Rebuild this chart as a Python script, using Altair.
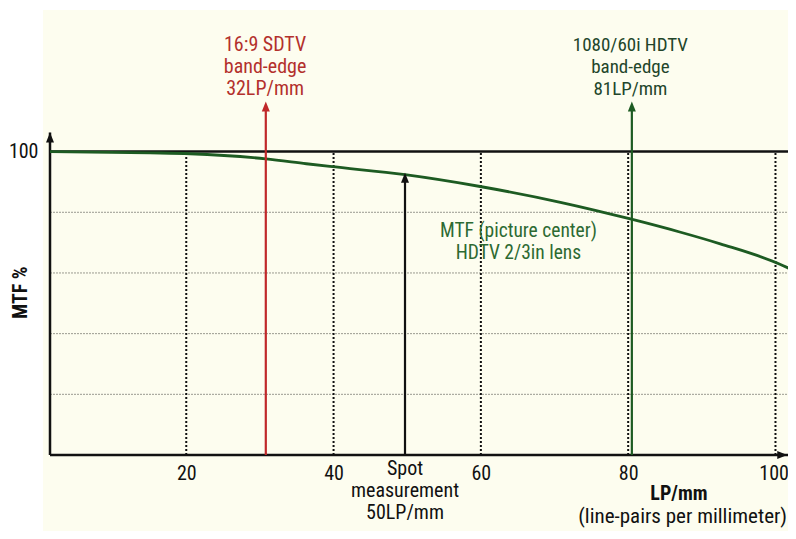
import altair as alt
import pandas as pd

# ---------------- data ----------------
curve_lp = [1.5, 15.1, 20.5, 30.8, 36.3, 39.5, 49.7, 59.9, 70.8, 80.3, 87.0, 92.5, 100.6, 102.8]
curve_mtf = [100, 99.6, 99.3, 97.6, 96.0, 95.1, 92.4, 88.5, 83.3, 77.8, 73.5, 69.6, 62.9, 60.4]

x_ticks = [20, 40, 60, 80, 100]
y_grid = [20, 40, 60, 80]
y_top = 100

marker_lp = [30.8, 49.7, 80.5]
marker_tip = [116.5, 93.0, 116.5]
marker_color = ["#c0282a", "#111111", "#1d5b22"]

label_text = ["16:9 SDTV\nband-edge\n32LP/mm",
              "Spot\nmeasurement\n50LP/mm",
              "1080/60i HDTV\nband-edge\n81LP/mm",
              "MTF (picture center)\nHDTV 2/3in lens"]
label_x = [30.7, 49.7, 80.3, 65.1]
label_y = [135.0, -4.5, 135.0, 73.8]
label_size = [20, 20, 19, 19.5]
label_color = ["#b3302c", "#111111", "#22452a", "#2d6a32"]

X_MIN, X_MAX = 1.5, 101.7
Y_MIN, Y_MAX = 0, 118
AXIS_TOP = 106.3

FONT = "Liberation Sans Narrow, Roboto Condensed, DejaVu Sans Condensed, Arial Narrow, sans-serif"

xs = alt.Scale(domain=[X_MIN, X_MAX], nice=False, zero=False)
ys = alt.Scale(domain=[Y_MIN, Y_MAX], nice=False, zero=False)
XA = alt.Axis(values=x_ticks, domain=False, ticks=False, grid=False, title=None,
              labelFont=FONT, labelFontSize=20, labelColor="#111111",
              labelPadding=8, labelFlush=20, labelFlushOffset=13, zindex=2)
YA = alt.Axis(values=[y_top], domain=False, ticks=False, grid=False, title=None,
              labelFont=FONT, labelFontSize=20, labelColor="#111111",
              labelPadding=12, zindex=2)


def X(f):
    return alt.X(f, type="quantitative", scale=xs, axis=XA)


def Y(f):
    return alt.Y(f, type="quantitative", scale=ys, axis=YA)


one = pd.DataFrame({"a": [0]})

# cream paper background
paper = alt.Chart(one).mark_rect(color="#fdfdef").encode(
    x=alt.value(-7), x2=alt.value(746), y=alt.value(-87), y2=alt.value(440))

# vertical dotted grid (black) from 0 to 100
vgrid_df = pd.DataFrame({"x": x_ticks, "y0": [0] * len(x_ticks), "y1": [y_top] * len(x_ticks)})
vgrid = alt.Chart(vgrid_df).mark_rule(color="#111111", strokeWidth=2, strokeDash=[2, 2]).encode(
    x=X("x"), y=Y("y0"), y2="y1")

# horizontal light dotted grid
hgrid_df = pd.DataFrame({"y": y_grid, "x0": [X_MIN] * len(y_grid), "x1": [X_MAX] * len(y_grid)})
hgrid = alt.Chart(hgrid_df).mark_rule(color="#9a9a90", strokeWidth=1, strokeDash=[2, 1]).encode(
    y=Y("y"), x=X("x0"), x2="x1")

# 100% reference line
top_df = pd.DataFrame({"y": [y_top], "x0": [X_MIN], "x1": [X_MAX]})
top_line = alt.Chart(top_df).mark_rule(color="#111111", strokeWidth=2.5).encode(
    y=Y("y"), x=X("x0"), x2="x1")

# axis lines
yaxis_df = pd.DataFrame({"x": [X_MIN], "y0": [0], "y1": [AXIS_TOP]})
yaxis_line = alt.Chart(yaxis_df).mark_rule(color="#111111", strokeWidth=2.5).encode(
    x=X("x"), y=Y("y0"), y2="y1")
xaxis_df = pd.DataFrame({"y": [0], "x0": [X_MIN], "x1": [X_MAX]})
xaxis_line = alt.Chart(xaxis_df).mark_rule(color="#111111", strokeWidth=2.5).encode(
    y=Y("y"), x=X("x0"), x2="x1")

UP = "M0,0L-0.8,2L0.8,2Z"
RIGHT = "M0,0L-2,-0.8L-2,0.8Z"
yarrow = alt.Chart(pd.DataFrame({"x": [X_MIN], "y": [AXIS_TOP]})).mark_point(
    shape=UP, size=100, filled=True, color="#111111", opacity=1).encode(x=X("x"), y=Y("y"))
xarrow = alt.Chart(pd.DataFrame({"x": [X_MAX - 0.1], "y": [0]})).mark_point(
    shape=RIGHT, size=100, filled=True, color="#111111", opacity=1).encode(x=X("x"), y=Y("y"))

# MTF curve
curve_df = pd.DataFrame({"lp": curve_lp, "mtf": curve_mtf})
curve = alt.Chart(curve_df).mark_line(color="#1d5b22", strokeWidth=2.8, clip=True,
                                      interpolate="monotone").encode(x=X("lp"), y=Y("mtf"))

# marker arrows
mk_df = pd.DataFrame({"lp": marker_lp, "y0": [0] * 3, "tip": marker_tip,
                      "c": marker_color})
mk_df["stem"] = mk_df["tip"] - 2
mk_lines = alt.Chart(mk_df).mark_rule(strokeWidth=2.2).encode(
    x=X("lp"), y=Y("y0"), y2="stem", color=alt.Color("c:N", scale=None))
mk_heads = alt.Chart(mk_df).mark_point(shape=UP, size=100, filled=True, opacity=1).encode(
    x=X("lp"), y=Y("tip"), color=alt.Color("c:N", scale=None))

# annotation labels
lab_df = pd.DataFrame({"t": label_text, "x": label_x, "y": label_y, "c": label_color,
                       "s": label_size})
labels = alt.Chart(lab_df).mark_text(font=FONT, lineBreak="\n", lineHeight=22,
                                     align="center", baseline="middle").encode(
    x=X("x"), y=Y("y"), text="t:N", color=alt.Color("c:N", scale=None),
    size=alt.Size("s:Q", scale=None))

# axis titles
xt_df = pd.DataFrame({"t": ["LP/mm"], "x": [86.9], "y": [-12.9]})
xt1 = alt.Chart(xt_df).mark_text(font=FONT, fontSize=20, fontWeight="bold", color="#111111",
                                 align="center", baseline="middle").encode(
    x=X("x"), y=Y("y"), text="t:N")
xt2_df = pd.DataFrame({"t": ["(line-pairs per millimeter)"], "x": [87.4], "y": [-20.6]})
xt2 = alt.Chart(xt2_df).mark_text(font=FONT, fontSize=21, color="#111111",
                                  align="center", baseline="middle").encode(
    x=X("x"), y=Y("y"), text="t:N")
yt_df = pd.DataFrame({"t": ["MTF %"], "x": [-2.4], "y": [53.5]})
yt = alt.Chart(yt_df).mark_text(font=FONT, fontSize=20, fontWeight="bold", color="#111111",
                                angle=270, align="center", baseline="middle").encode(
    x=X("x"), y=Y("y"), text="t:N")

chart = alt.layer(
    paper, hgrid, vgrid, top_line, yaxis_line, xaxis_line, yarrow, xarrow,
    curve, mk_lines, mk_heads, labels, xt1, xt2, yt
).properties(
    width=738, height=358, autosize="none",
    padding={"left": 42, "top": 89, "right": 0, "bottom": 76},
    background="#ffffff",
).configure_view(stroke=None)

chart.save("out.html", embed_options={"renderer": "svg", "actions": False})
